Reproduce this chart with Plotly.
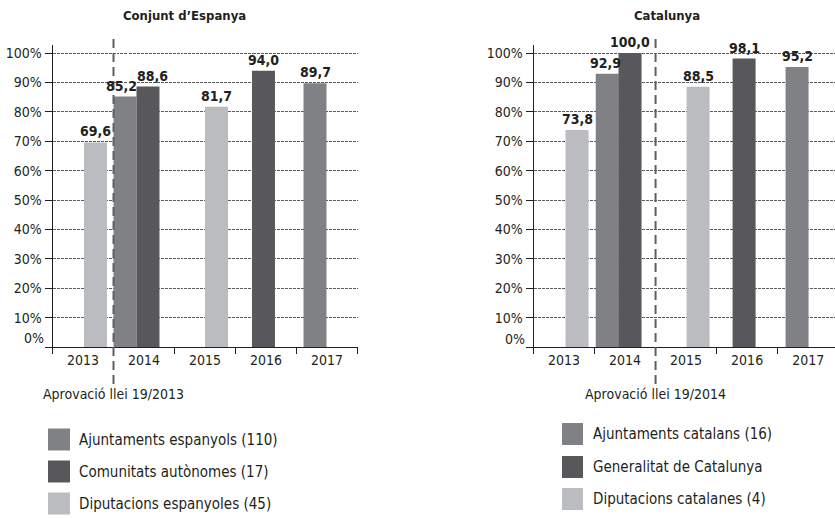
import plotly.graph_objects as go

# ---- data ----
years = ["2013", "2014", "2015", "2016", "2017"]

esp_titol = "Conjunt d’Espanya"
esp_ajuntaments_x = ["2014", "2017"]
esp_ajuntaments_y = [85.2, 89.7]
esp_comunitats_x = ["2014", "2016"]
esp_comunitats_y = [88.6, 94.0]
esp_diputacions_x = ["2013", "2015"]
esp_diputacions_y = [69.6, 81.7]
esp_noms = ["Ajuntaments espanyols (110)", "Comunitats autònomes (17)", "Diputacions espanyoles (45)"]
esp_llei = "Aprovació llei 19/2013"

cat_titol = "Catalunya"
cat_ajuntaments_x = ["2014", "2017"]
cat_ajuntaments_y = [92.9, 95.2]
cat_generalitat_x = ["2014", "2016"]
cat_generalitat_y = [100.0, 98.1]
cat_diputacions_x = ["2013", "2015"]
cat_diputacions_y = [73.8, 88.5]
cat_noms = ["Ajuntaments catalans (16)", "Generalitat de Catalunya", "Diputacions catalanes (4)"]
cat_llei = "Aprovació llei 19/2014"

y_ticks = [0, 10, 20, 30, 40, 50, 60, 70, 80, 90, 100]

# ---- style ----
W, H = 835, 518
FONT = "Liberation Sans Narrow, DejaVu Sans Condensed, Roboto, sans-serif"
INK = "#231f20"
C_MID = "#808184"
C_DARK = "#58585a"
C_LIGHT = "#bbbcbf"
BAR_W = 0.377


def px_x(v):
    return v / W


def px_y(v):
    return 1 - v / H


def fmt(v):
    return f"{v:.1f}".replace(".", ",")


fig = go.Figure()
value_labels = []


def add_bars(xs, ys, color, offsets, xa, ya, nudges):
    fig.add_trace(go.Bar(
        x=xs, y=ys, xaxis=xa, yaxis=ya,
        marker=dict(color=color, line=dict(width=0)),
        width=BAR_W, offset=offsets,
        showlegend=False, hoverinfo="skip",
    ))
    # value labels above each bar, centred on the bar (small nudges where labels crowd)
    for xv, yv, off, nd in zip(xs, ys, offsets, nudges):
        value_labels.append(dict(
            xref=xa, yref=ya, x=years.index(xv) + off + BAR_W / 2, y=yv,
            text="<b>" + fmt(yv) + "</b>",
            showarrow=False, xanchor="center", yanchor="bottom",
            xshift=nd, yshift=1,
            font=dict(family=FONT, size=14, color=INK),
        ))


# left panel
add_bars(esp_diputacions_x, esp_diputacions_y, C_LIGHT, [0.016, 0.0], "x", "y", [0, 0])
add_bars(esp_ajuntaments_x, esp_ajuntaments_y, C_MID, [-0.5, -0.385], "x", "y", [-4, 0])
add_bars(esp_comunitats_x, esp_comunitats_y, C_DARK, [-0.123, -0.23], "x", "y", [4, 0])
# right panel
add_bars(cat_diputacions_x, cat_diputacions_y, C_LIGHT, [0.025, 0.008], "x2", "y2", [0, 0])
add_bars(cat_ajuntaments_x, cat_ajuntaments_y, C_MID, [-0.48, -0.37], "x2", "y2", [-2, 0])
add_bars(cat_generalitat_x, cat_generalitat_y, C_DARK, [-0.107, -0.238], "x2", "y2", [0, 0])

y_top_px, y_bot_px = 45, 347
y_max = 100 * (y_bot_px - y_top_px) / 294.0
ydom = [px_y(y_bot_px), px_y(y_top_px)]

tick_text_y = [""] + [f"{v}%" for v in y_ticks[1:]]

xaxis_common = dict(
    type="category", categoryorder="array", categoryarray=years,
    tickson="boundaries",
    ticks="outside", ticklen=6, tickcolor=INK, tickwidth=1,
    showline=True, linecolor=INK, linewidth=1,
    showgrid=False, zeroline=False,
    tickfont=dict(family=FONT, size=14, color=INK),
    fixedrange=True,
)
yaxis_common = dict(
    range=[0, y_max], domain=ydom,
    tickvals=y_ticks, ticktext=tick_text_y,
    ticks="outside", ticklen=7, tickcolor=INK, tickwidth=1,
    showline=True, linecolor=INK, linewidth=1,
    showgrid=True, gridcolor="#5a5a5a", griddash="3px,1px", gridwidth=1,
    zeroline=False,
    tickfont=dict(family=FONT, size=14, color=INK),
    fixedrange=True,
)

fig.update_layout(
    width=W, height=H,
    margin=dict(l=0, r=0, t=0, b=0),
    paper_bgcolor="white", plot_bgcolor="white",
    barmode="overlay",
    xaxis=dict(xaxis_common, domain=[px_x(52.5), px_x(357.5)], range=[-0.5, 4.5], anchor="y"),
    yaxis=dict(yaxis_common, anchor="x"),
    xaxis2=dict(xaxis_common, domain=[px_x(533.5), 1.0], range=[-0.5, 4.44], anchor="y2"),
    yaxis2=dict(yaxis_common, anchor="x2"),
    font=dict(family=FONT, color=INK),
)

shapes = []
annotations = list(value_labels)

# law approval markers
for xref, xpos, text in [("x", 0.5, esp_llei), ("x2", 1.5, cat_llei)]:
    shapes.append(dict(type="line", xref=xref, yref="paper", x0=xpos, x1=xpos,
                       y0=px_y(384), y1=px_y(38),
                       line=dict(color="#5f5f5f", width=2, dash="9px,5px")))
    annotations.append(dict(xref=xref, yref="paper", x=xpos, y=px_y(394),
                            text=text, showarrow=False, xanchor="center", yanchor="middle",
                            font=dict(family=FONT, size=14, color=INK)))

# panel titles
annotations.append(dict(xref="paper", yref="paper", x=px_x(184), y=px_y(15),
                        text="<b>" + esp_titol + "</b>", showarrow=False,
                        xanchor="center", yanchor="middle",
                        font=dict(family=FONT, size=13, color=INK)))
annotations.append(dict(xref="paper", yref="paper", x=px_x(667), y=px_y(15),
                        text="<b>" + cat_titol + "</b>", showarrow=False,
                        xanchor="center", yanchor="middle",
                        font=dict(family=FONT, size=13, color=INK)))

# zero labels sit a little above the baseline
for xe, yc in [(46, 338), (527, 339)]:
    annotations.append(dict(xref="paper", yref="paper", x=px_x(xe), y=px_y(yc),
                            text="0%", showarrow=False, xanchor="right", yanchor="middle",
                            font=dict(family=FONT, size=14, color=INK)))

# legends
colors = [C_MID, C_DARK, C_LIGHT]
for names, x0, x1, xt, rows in [
    (esp_noms, 48, 70, 77, [439.5, 471.5, 503.5]),
    (cat_noms, 562, 583, 591, [434, 467, 499]),
]:
    for name, col, yc in zip(names, colors, rows):
        shapes.append(dict(type="rect", xref="paper", yref="paper",
                           x0=px_x(x0), x1=px_x(x1), y0=px_y(yc + 11), y1=px_y(yc - 11),
                           fillcolor=col, line=dict(width=0)))
        annotations.append(dict(xref="paper", yref="paper", x=px_x(xt), y=px_y(yc),
                                text=name, showarrow=False, xanchor="left", yanchor="middle",
                                font=dict(family=FONT, size=15, color=INK)))

fig.update_layout(shapes=shapes, annotations=annotations)

fig.write_html("out.html")
